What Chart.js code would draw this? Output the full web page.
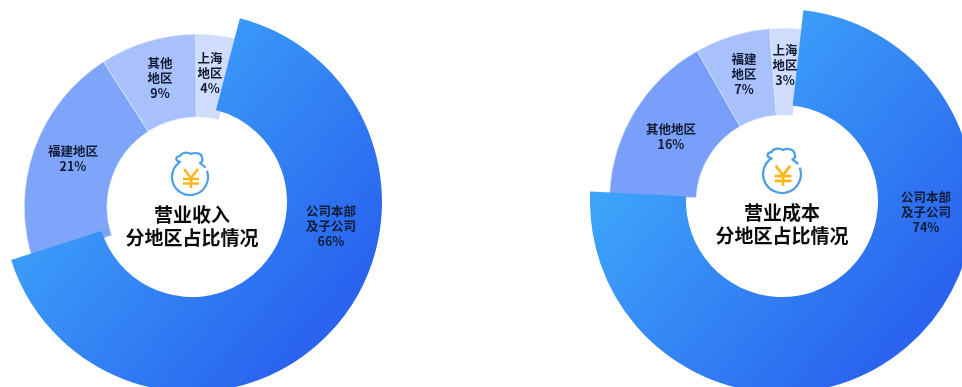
<!DOCTYPE html>
<html lang="zh">
<head>
<meta charset="utf-8">
<title>分地区占比情况</title>
<script src="https://cdn.jsdelivr.net/npm/chart.js@4/dist/chart.umd.min.js"></script>
<style>
  html, body { margin: 0; padding: 0; background: #fff; width: 962px; height: 387px; overflow: hidden; }
  #stage { position: relative; width: 962px; height: 387px; overflow: hidden; }
  canvas { position: absolute; }
</style>
</head>
<body>
<div id="stage"></div>
<script>
// Regional shares, in percent
const revenueRegions = ['公司本部及子公司', '福建地区', '其他地区', '上海地区'];
const revenueValues = [66, 21, 9, 4];
const costRegions = ['公司本部及子公司', '其他地区', '福建地区', '上海地区'];
const costValues = [74, 16, 7, 3];

// How each region name is broken over lines inside its slice
const revenueLines = [['公司本部', '及子公司'], ['福建地区'], ['其他', '地区'], ['上海', '地区']];
const costLines = [['公司本部', '及子公司'], ['其他地区'], ['福建', '地区'], ['上海', '地区']];

const revenueTitle = ['营业收入', '分地区占比情况'];
const costTitle = ['营业成本', '分地区占比情况'];

// Colours for the three smaller slices, outermost tone first
const revenueTints = ['#7FA5FB', '#A8C0FB', '#CFDCFC'];
const costTints = ['#7A9FFA', '#A8C0FB', '#CFDCFC'];

const FONT = '"Noto Sans CJK SC", "Noto Sans", sans-serif';
const TEXT_DARK = '#111B33';

const stage = document.getElementById('stage');

function addCanvas(cx, cy, radius) {
  const c = document.createElement('canvas');
  c.width = c.height = radius * 2;
  c.style.left = (cx - radius) + 'px';
  c.style.top = (cy - radius) + 'px';
  c.style.width = c.style.height = radius * 2 + 'px';
  stage.appendChild(c);
  return c;
}

// Money bag with a yen sign, centred on the origin
function drawBag(ctx, x, y, scale) {
  ctx.save();
  ctx.translate(x, y);
  ctx.scale(scale, scale);
  ctx.lineCap = 'round';
  ctx.lineJoin = 'round';
  ctx.strokeStyle = '#4E9FE6';
  ctx.lineWidth = 2.2;
  ctx.beginPath();
  ctx.arc(0, 2, 18, -0.3, -2.15 + Math.PI * 2);
  ctx.bezierCurveTo(-16, -14, -14, -19, -10, -19);
  ctx.bezierCurveTo(-8, -23, -2, -23, 1, -21);
  ctx.bezierCurveTo(5, -23, 12, -22, 12, -17);
  ctx.bezierCurveTo(13, -15, 12, -13, 10, -12);
  ctx.lineTo(15, -8);
  ctx.stroke();
  ctx.strokeStyle = '#F8B61E';
  ctx.lineWidth = 2.6;
  ctx.lineCap = 'butt';
  ctx.beginPath();
  ctx.moveTo(-6, -6); ctx.lineTo(1, 3); ctx.lineTo(8, -6);
  ctx.moveTo(1, 3); ctx.lineTo(1, 13);
  ctx.moveTo(-7, 4); ctx.lineTo(9, 4);
  ctx.moveTo(-7, 8.5); ctx.lineTo(9, 8.5);
  ctx.stroke();
  ctx.restore();
}

function makePanel(cfg) {
  const { regions, values, lines, title, tints, rotation, small, big, labelAt, titleAt, bagAt } = cfg;

  // Smaller slices: the dominant slice is left empty so the shared arc layout is kept
  new Chart(addCanvas(small.x, small.y, small.r), {
    type: 'doughnut',
    data: {
      labels: regions,
      datasets: [{
        data: values,
        backgroundColor: ['rgba(0,0,0,0)', ...tints],
        borderColor: ['rgba(0,0,0,0)', '#E4ECFE', '#E4ECFE', '#E4ECFE'],
        borderWidth: [0, 0.6, 0.6, 0.6]
      }]
    },
    options: {
      responsive: false, animation: false, events: [],
      rotation, cutout: small.hole,
      layout: { padding: 0 },
      plugins: { legend: { display: false }, tooltip: { enabled: false } }
    }
  });

  // Dominant slice, drawn larger on its own ring, carrying every label on top
  const overlay = {
    id: 'panelText',
    afterDraw(chart) {
      const ctx = chart.ctx;
      const ox = big.x - big.r, oy = big.y - big.r;
      ctx.save();
      ctx.translate(-ox, -oy);
      ctx.textAlign = 'center';
      ctx.textBaseline = 'middle';
      ctx.fillStyle = TEXT_DARK;
      ctx.font = 'bold 12.5px ' + FONT;
      lines.forEach((rows, i) => {
        const pos = labelAt[i];
        [...rows, values[i] + '%'].forEach((t, k) => ctx.fillText(t, pos.x, pos.y + k * 15));
      });
      ctx.fillStyle = '#0A0A0A';
      ctx.font = 'bold 19px ' + FONT;
      title.forEach((t, k) => ctx.fillText(t, titleAt.x, titleAt.y + k * 23));
      drawBag(ctx, bagAt.x, bagAt.y, bagAt.s);
      ctx.restore();
    }
  };

  new Chart(addCanvas(big.x, big.y, big.r), {
    type: 'doughnut',
    data: {
      labels: regions,
      datasets: [{
        data: values,
        backgroundColor(ctx) {
          if (ctx.dataIndex !== 0) return 'rgba(0,0,0,0)';
          const d = big.r * 2;
          const g = ctx.chart.ctx.createLinearGradient(d * 0.22, d * 0.3, d * 0.84, d * 0.82);
          g.addColorStop(0, '#3DA2FA');
          g.addColorStop(1, '#2963EE');
          return g;
        },
        borderWidth: 0
      }]
    },
    options: {
      responsive: false, animation: false, events: [],
      rotation: rotation + big.turn, cutout: big.hole,
      layout: { padding: 0 },
      plugins: { legend: { display: false }, tooltip: { enabled: false } }
    },
    plugins: [overlay]
  });
}

makePanel({
  regions: revenueRegions, values: revenueValues, lines: revenueLines,
  title: revenueTitle, tints: revenueTints, rotation: 14,
  small: { x: 197, y: 207, r: 173, hole: 90 },
  big: { x: 192, y: 202, r: 190, hole: 95, turn: 0.6 },
  labelAt: [{ x: 331, y: 211 }, { x: 73, y: 151 }, { x: 160, y: 63 }, { x: 210, y: 58 }],
  titleAt: { x: 192, y: 215 },
  bagAt: { x: 190, y: 175, s: 1 }
});

makePanel({
  regions: costRegions, values: costValues, lines: costLines,
  title: costTitle, tints: costTints, rotation: 6.4,
  small: { x: 783, y: 202, r: 174, hole: 87 },
  big: { x: 782, y: 201, r: 192, hole: 96, turn: 0 },
  labelAt: [{ x: 926, y: 197 }, { x: 671, y: 129 }, { x: 744, y: 59 }, { x: 785, y: 50 }],
  titleAt: { x: 782, y: 213 },
  bagAt: { x: 782, y: 172, s: 1.05 }
});
</script>
</body>
</html>
